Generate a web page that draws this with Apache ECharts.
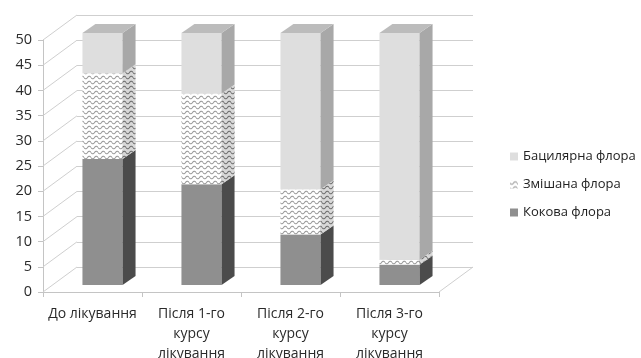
<!DOCTYPE html>
<html><head><meta charset="utf-8">
<script src="https://cdn.jsdelivr.net/npm/echarts@6/dist/echarts.min.js"></script>
<style>html,body{margin:0;padding:0;background:#fff}#c{width:641px;height:358px}</style>
</head><body><div id="c"></div>
<script>
const categories = ['До лікування', 'Після 1-го\nкурсу\nлікування', 'Після 2-го\nкурсу\nлікування', 'Після 3-го\nкурсу\nлікування'];
const kokova = [25, 20, 10, 4];
const zmishana = [17, 18, 9, 1];
const batsylyarna = [8, 12, 31, 45];
const yTicks = [0, 5, 10, 15, 20, 25, 30, 35, 40, 45, 50];
const legendOrder = ['Бацилярна флора', 'Змішана флора', 'Кокова флора'];

const FONT = 'Open Sans';
// geometry (styles)
const WX = 34, WY = -25;      // wall depth
const OX = 10, OY = -7;       // bar front offset
const DX = 13, DY = 9;        // bar depth
const BW = 0.405;             // bar width fraction

function makeWave(bg, fg) {
  const c = document.createElement('canvas');
  c.width = 7; c.height = 5;
  const g = c.getContext('2d');
  g.fillStyle = bg; g.fillRect(0, 0, 7, 5);
  g.strokeStyle = fg; g.lineWidth = 1.1;
  g.beginPath();
  for (let i = 0; i <= 14; i++) {
    const x = i / 2;
    const y = 2.5 + 1.3 * Math.sin(x / 7 * 2 * Math.PI);
    if (i === 0) g.moveTo(x, y); else g.lineTo(x, y);
  }
  g.stroke();
  return c;
}
const waveFront = { image: makeWave('#ffffff', '#9a9a9a'), repeat: 'repeat' };
const waveSide = { image: makeWave('#d8d8d8', '#6e6e6e'), repeat: 'repeat' };

function stackData(vals, bases) {
  return vals.map((v, i) => [i, bases[i], bases[i] + v]);
}
const base0 = kokova.map(() => 0);
const base1 = kokova.slice();
const base2 = kokova.map((v, i) => v + zmishana[i]);

function barRenderer(front, side, top) {
  return function (params, api) {
    const i = api.value(0), b = api.value(1), t = api.value(2);
    const p0 = api.coord([i, b]), p1 = api.coord([i, t]);
    const w = api.size([1, 0])[0] * BW;
    const cx = p0[0] + OX, y0 = p0[1] + OY, y1 = p1[1] + OY;
    const xl = cx - w / 2, xr = cx + w / 2;
    return {
      type: 'group',
      children: [
        { type: 'rect', shape: { x: xl, y: y1, width: w, height: y0 - y1 }, style: { fill: front } },
        { type: 'polygon', shape: { points: [[xr, y0], [xr + DX, y0 - DY], [xr + DX, y1 - DY], [xr, y1]] }, style: { fill: side } },
        { type: 'polygon', shape: { points: [[xl, y1], [xr, y1], [xr + DX, y1 - DY], [xl + DX, y1 - DY]] }, style: { fill: top } }
      ]
    };
  };
}

const chart = echarts.init(document.getElementById('c'), null, { renderer: 'canvas' });
chart.setOption({
  backgroundColor: '#ffffff',
  animation: false,
  textStyle: { fontFamily: FONT },
  grid: [
    { left: 43, top: 40, width: 396, height: 252, outerBoundsMode: 'none', containLabel: false },
    { left: 43 + WX, top: 40 + WY, width: 396, height: 252, outerBoundsMode: 'none', containLabel: false }
  ],
  xAxis: [
    {
      type: 'category', gridIndex: 0, data: categories,
      axisLine: { lineStyle: { color: '#c4c4c4' } },
      axisTick: { show: true, length: 5, lineStyle: { color: '#c4c4c4' } },
      axisLabel: { interval: 0, fontSize: 14, lineHeight: 20, color: '#2a2a2a', margin: 12, fontFamily: FONT }
    },
    { type: 'value', gridIndex: 1, show: false, min: 0, max: 1 }
  ],
  yAxis: [
    {
      type: 'value', gridIndex: 0, min: 0, max: 50, interval: 5,
      axisLine: { show: true, lineStyle: { color: '#c4c4c4' } },
      axisTick: { show: true, length: 5, lineStyle: { color: '#c4c4c4' } },
      splitLine: { show: false },
      axisLabel: { fontSize: 14.5, color: '#2a2a2a', margin: 11, fontFamily: FONT }
    },
    {
      type: 'value', gridIndex: 1, min: 0, max: 50, interval: 5,
      axisLine: { show: false }, axisTick: { show: false }, axisLabel: { show: false },
      splitLine: { show: true, lineStyle: { color: '#cfcfcf', width: 1 } }
    }
  ],
  legend: {
    data: legendOrder, orient: 'vertical', left: 505, top: 145,
    itemWidth: 8, itemHeight: 8, itemGap: 15, icon: 'rect',
    textStyle: { fontSize: 13, color: '#222222', fontFamily: FONT },
    selectedMode: false
  },
  series: [
    {
      type: 'custom', name: 'walls', xAxisIndex: 0, yAxisIndex: 0, silent: true, z: 1,
      data: yTicks.map(v => [0, v]),
      renderItem: function (params, api) {
        const v = api.value(1);
        const y = api.coord([0, v])[1];
        const x0 = params.coordSys.x, x1 = x0 + params.coordSys.width;
        const st = { stroke: '#cfcfcf', lineWidth: 1 };
        const ch = [{ type: 'line', shape: { x1: x0, y1: y, x2: x0 + WX, y2: y + WY }, style: st }];
        if (v === 0) ch.push({ type: 'line', shape: { x1: x1, y1: y, x2: x1 + WX, y2: y + WY }, style: st });
        return { type: 'group', children: ch };
      }
    },
    {
      type: 'custom', name: 'Кокова флора', z: 3, encode: { x: 0, y: [1, 2] },
      itemStyle: { color: '#8f8f8f' },
      data: stackData(kokova, base0),
      renderItem: barRenderer('#8f8f8f', '#4b4b4b', '#a0a0a0')
    },
    {
      type: 'custom', name: 'Змішана флора', z: 4, encode: { x: 0, y: [1, 2] },
      itemStyle: { color: waveFront },
      data: stackData(zmishana, base1),
      renderItem: barRenderer(waveFront, waveSide, '#e6e6e6')
    },
    {
      type: 'custom', name: 'Бацилярна флора', z: 5, encode: { x: 0, y: [1, 2] },
      itemStyle: { color: '#dedede' },
      data: stackData(batsylyarna, base2),
      renderItem: barRenderer('#dedede', '#a8a8a8', '#bcbcbc')
    }
  ]
});
</script>
</body></html>
